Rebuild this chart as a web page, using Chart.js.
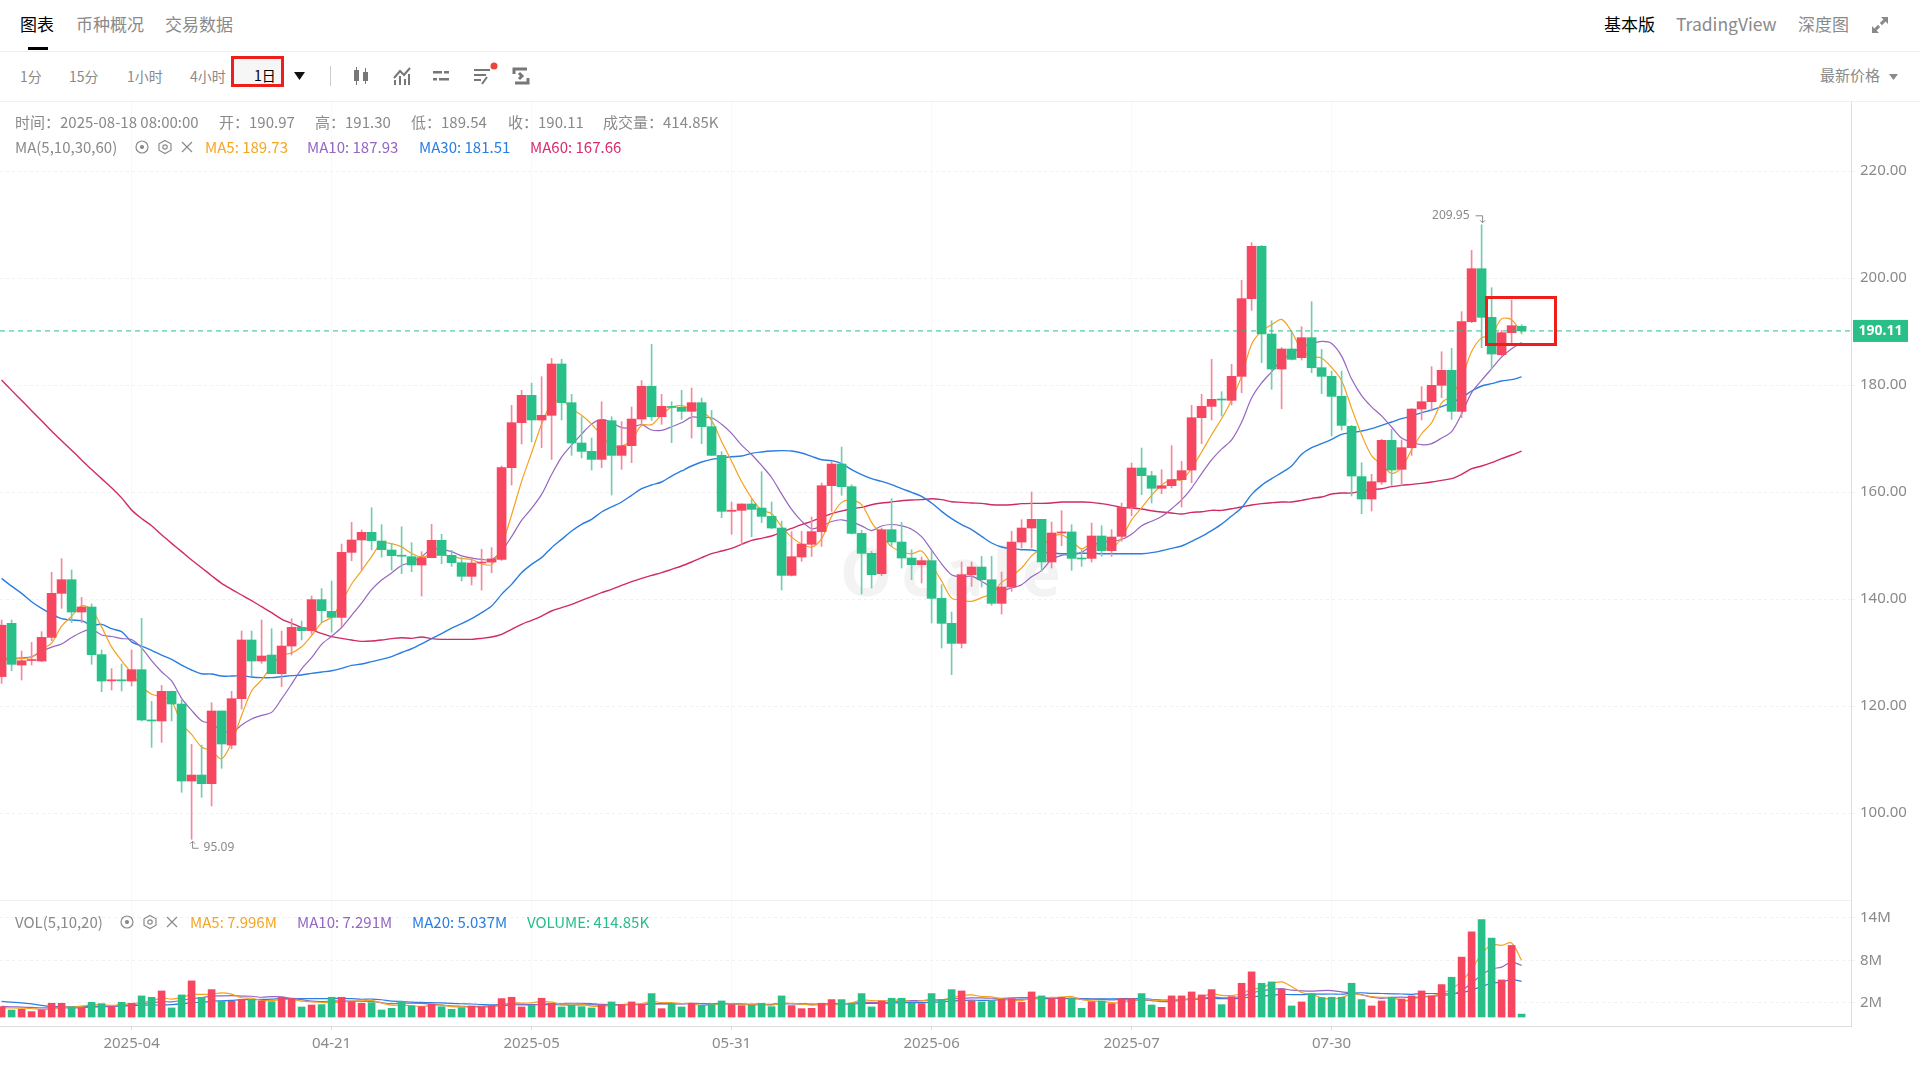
<!DOCTYPE html>
<html lang="zh">
<head>
<meta charset="utf-8">
<title>K线图</title>
<script src="https://cdn.jsdelivr.net/npm/chart.js@4"></script>
<style>
html, body { margin: 0; padding: 0; background: #fff; }
body { width: 1920px; height: 1080px; position: relative; overflow: hidden; font-family: "Noto Sans CJK SC", "Noto Sans", sans-serif; color: #8a8a8a; }
.t { position: absolute; white-space: nowrap; line-height: 20px; }
.tab { font-size: 17px; top: 14px; color: #8a8a8a; }
.tb { font-size: 14px; top: 66px; color: #8a8a8a; }
.info { font-size: 15px; color: #8a8a8a; }
.line { position: absolute; background: #f0f0f0; }
canvas { position: absolute; left: 0; }
svg { position: absolute; }
#mark { position: absolute; left: 840px; top: 530px; font: bold 66px "Noto Sans", sans-serif; letter-spacing: 9px; color: #f3f3f3; line-height: 80px; }
</style>
</head>
<body>
<span class="t tab" style="left:20px;color:#000">图表</span>
<span class="t tab" style="left:76px">币种概况</span>
<span class="t tab" style="left:165px">交易数据</span>
<div class="line" style="left:28px;top:47px;width:20px;height:3px;background:#000"></div>
<span class="t tab" style="left:1604px;color:#000">基本版</span>
<span class="t tab" style="left:1676px;font-size:17.500px">TradingView</span>
<span class="t tab" style="left:1798px">深度图</span>
<svg style="left:1871px;top:16px" width="18" height="18" viewBox="0 0 18 18" fill="#8a8a8a"><path d="M10 1h7v7l-2.400-2.400-3.600 3.600-2.200-2.200 3.600-3.600zM8 17H1v-7l2.400 2.400 3.600-3.600 2.200 2.200-3.600 3.600z"/></svg>
<div class="line" style="left:0;top:51px;width:1920px;height:1px"></div>

<span class="t tb" style="left:20px">1分</span>
<span class="t tb" style="left:69px">15分</span>
<span class="t tb" style="left:127px">1小时</span>
<span class="t tb" style="left:190px">4小时</span>
<div style="position:absolute;left:231px;top:56px;width:47px;height:25px;border:3px solid #ee1f1a;background:#f6f6f6"></div>
<span class="t tb" style="left:254px;top:65px;color:#000">1日</span>
<svg style="left:294px;top:72px" width="11" height="8"><path d="M0 0h11L5.500 8z" fill="#111"/></svg>
<div class="line" style="left:330px;top:66px;width:1px;height:20px;background:#ccc"></div>
<svg style="left:352px;top:66px" width="18" height="20" fill="#777"><rect x="2" y="4" width="5" height="11"/><rect x="4" y="1" width="1" height="18"/><rect x="11" y="6" width="5" height="9"/><rect x="13" y="2" width="1" height="16"/></svg>
<svg style="left:393px;top:66px" width="18" height="20" fill="none" stroke="#777" stroke-width="2"><path d="M1 12L7 5l4 4 6-7M2 14v5M7 10v9M12 13v6M16 8v11"/></svg>
<svg style="left:432px;top:66px" width="18" height="20" fill="#777"><rect x="1" y="5" width="9" height="2.500"/><rect x="12" y="5" width="5" height="2.500"/><rect x="1" y="12" width="4" height="2.500"/><rect x="7" y="12" width="10" height="2.500"/></svg>
<svg style="left:473px;top:66px" width="18" height="20" fill="none" stroke="#777" stroke-width="2"><path d="M1 4h16M1 9h12M1 14h7M9 18l5-7"/></svg>
<svg style="left:490px;top:62px" width="8" height="8"><circle cx="4" cy="4" r="3.500" fill="#e8463a"/></svg>
<svg style="left:512px;top:66px" width="18" height="20" fill="none" stroke="#777" stroke-width="3"><path d="M2 8V3h13M16 12v5H3M7 7l3 3-3 3"/></svg>
<span class="t" style="left:1820px;top:65px;font-size:15px">最新价格</span>
<svg style="left:1889px;top:74px" width="9" height="6"><path d="M0 0h9L4.500 6z" fill="#8a8a8a"/></svg>
<div class="line" style="left:0;top:101px;width:1920px;height:1px"></div>

<div id="mark">Ocale</div>
<canvas id="priceChart" width="1920" height="798" style="top:102px"></canvas>
<canvas id="volChart" width="1920" height="180" style="top:900px"></canvas>
<div class="line" style="left:0;top:900px;width:1851px;height:1px"></div>

<span class="t info" style="left:15px;top:112px">时间：2025-08-18 08:00:00</span>
<span class="t info" style="left:219px;top:112px">开：190.97</span>
<span class="t info" style="left:315px;top:112px">高：191.30</span>
<span class="t info" style="left:411px;top:112px">低：189.54</span>
<span class="t info" style="left:508px;top:112px">收：190.11</span>
<span class="t info" style="left:603px;top:112px">成交量：414.85K</span>
<span class="t info" style="left:15px;top:137px">MA(5,10,30,60)</span>
<svg style="left:134px;top:139px" width="62" height="16" fill="none" stroke="#8a8a8a" stroke-width="1.200"><circle cx="8" cy="8" r="6"/><circle cx="8" cy="8" r="1.500" fill="#8a8a8a"/><path d="M31 1.500l6 3.300v6.400l-6 3.300-6-3.300V4.800z"/><circle cx="31" cy="8" r="2.200"/><path d="M48 3l10 10M58 3L48 13"/></svg>
<span class="t info" style="left:205px;top:137px;color:#f5a623">MA5: 189.73</span>
<span class="t info" style="left:307px;top:137px;color:#9566c2">MA10: 187.93</span>
<span class="t info" style="left:419px;top:137px;color:#2a7de1">MA30: 181.51</span>
<span class="t info" style="left:530px;top:137px;color:#d92c6e">MA60: 167.66</span>

<span class="t info" style="left:15px;top:912px">VOL(5,10,20)</span>
<svg style="left:119px;top:914px" width="62" height="16" fill="none" stroke="#8a8a8a" stroke-width="1.200"><circle cx="8" cy="8" r="6"/><circle cx="8" cy="8" r="1.500" fill="#8a8a8a"/><path d="M31 1.500l6 3.300v6.400l-6 3.300-6-3.300V4.800z"/><circle cx="31" cy="8" r="2.200"/><path d="M48 3l10 10M58 3L48 13"/></svg>
<span class="t info" style="left:190px;top:912px;color:#f5a623">MA5: 7.996M</span>
<span class="t info" style="left:297px;top:912px;color:#9566c2">MA10: 7.291M</span>
<span class="t info" style="left:412px;top:912px;color:#2a7de1">MA20: 5.037M</span>
<span class="t info" style="left:527px;top:912px;color:#26bd87">VOLUME: 414.85K</span>

<div style="position:absolute;left:1485px;top:296px;width:66px;height:44px;border:3px solid #ee1f1a"></div>

<script>
// candle values, one entry per day
const opens = [125.5,135.45,127.66,128.5,128.41,132.83,141.06,143.61,137.57,138.5,129.6,124.7,124.9,124.67,126.79,117.4,117.2,122.74,120.37,105.98,107.1,105.48,119.07,112.7,121.37,132.34,128.41,129.53,126.04,131.21,134.7,134.08,139.88,137.69,136.57,148.72,151.03,152.46,150.84,149.16,148.1,147.91,146.36,147.73,150.97,148.16,146.79,144.24,146.73,146.9,147.41,164.55,172.96,178.07,173.46,174.33,183.93,176.7,169.16,167.6,166.1,173.33,166.85,168.66,173.64,179.75,174.08,176,175.83,175.08,176.7,172.21,166.85,156.39,156.57,157.76,157,155.45,153.27,144.42,147.85,150.22,152.59,161.18,165.23,161,152.27,148.54,144.73,152.96,150.65,147.66,146.42,147.17,140.12,135.45,131.71,144.55,145.98,143.61,139.19,142.24,150.65,153.27,154.89,146.92,152.34,152.53,147.66,147.6,151.78,149.03,151.71,157.13,164.49,163.05,160.69,161.18,162.31,164.11,173.89,176.01,177.38,177.13,181.62,196.14,205.92,189.53,182.99,186.73,185.11,188.85,183.24,181.62,177.88,172.27,162.87,158.69,161.87,169.66,164.24,168.29,175.51,176.88,179.94,182.74,175.08,191.84,201.74,192.65,185.67,189.78,190.97];
const closes = [135.1,127.79,128.47,128.66,132.83,141.06,143.61,137.57,138.5,129.6,124.67,124.9,124.7,126.79,117.38,117.2,122.74,120.37,105.98,107.1,105.48,119.07,112.9,121.37,132.34,128.41,129.35,126.04,131.21,134.7,134.08,139.88,137.82,136.57,148.72,151.03,152.46,150.9,149.22,148.1,148,146.36,147.73,150.97,148.16,146.79,144.24,146.73,146.9,147.5,164.55,172.96,178.07,173.46,174.33,183.93,176.7,169.16,167.6,166.1,173.46,166.85,168.66,173.64,179.75,174.08,176.01,175.8,175.08,176.7,172.21,166.85,156.39,156.6,157.76,156.76,155.45,153.27,144.42,147.91,150.28,152.59,161.18,165.23,161,152.27,148.54,144.55,152.96,150.65,147.66,146.42,147.17,140.12,135.45,131.71,144.55,145.98,143.61,139.19,142.24,150.65,153.27,154.89,146.92,152.34,152.53,147.6,147.48,151.78,149.03,151.59,157.13,164.49,163.05,160.69,161.18,162.31,163.99,173.89,176.01,177.32,177.2,181.62,196.14,205.92,189.53,182.99,186.73,184.8,188.85,183.24,181.62,177.88,172.46,162.99,158.69,161.93,169.66,164.11,168.29,175.51,176.88,179.94,182.74,175.08,191.84,201.74,192.65,185.79,189.78,191.09,190.11];
const highs = [136.07,136.07,130.28,131.9,133.9,144.98,147.54,145.42,140.31,139.07,130.47,126.98,127.85,130.47,136.39,120.87,123.86,122.8,121.43,112.83,112.7,120.62,119.07,122.74,134.02,134.02,136.07,134.45,134.02,136.32,135.89,140.56,141.93,143.36,150.28,154.33,152.9,157.07,153.9,150.4,153.5,150.53,148.85,153.96,152.09,149.1,147.73,147.85,149.3,149.6,164.86,176.2,179,180.37,181.56,184.98,184.8,178.26,174.08,170.09,176.88,174.08,173.15,175.89,180.81,187.6,178.26,176.88,179,179.44,177.57,175.26,167.54,158.13,157.8,158.63,163.8,158.13,154.58,152.59,152.65,155.33,161.68,165.73,168.41,161.37,152.83,148.91,153.27,158.75,154.33,149.22,147.85,148.91,142.68,137.57,146.92,146.92,147.97,147.97,145.05,152.65,154.83,160,154.89,154.39,156.51,153.89,149.22,154.2,153.7,152.96,157.94,165.42,168.22,163.86,164.17,168.66,165.73,176.2,178.26,184.8,178.75,183.86,199.56,206.6,206.1,192.02,186.98,190.09,190.9,195.58,186.67,182.6,182.6,172.46,165.48,163.3,169.84,171.71,169.72,175.58,179.69,183.43,186.23,186.85,193.71,205.17,209.95,198.19,190.22,195.89,191.3];
const lows = [124.24,126.6,124.86,127.66,128.29,132.2,138.26,135.6,135.58,127.79,122.68,122.99,122.8,123.74,117.2,112.27,113.2,117.2,103.86,95.09,102.93,101.31,108.35,112,119.44,125.67,127.97,126.04,123.61,129.53,132.34,133.46,135.58,133.77,134.83,147.17,145.42,149.2,147.8,145.42,144.74,145.11,140.56,147.73,146.6,146.1,143.36,142.62,141.68,144.9,147.2,161.3,168.97,169.4,168.29,166.1,173.46,166.85,166.36,164.11,164.55,159.44,164.24,165.48,172.65,173.4,172.65,169.22,173.58,170.09,169.03,166.85,155.2,152.09,150.2,151.65,154.27,153.15,141.68,144.3,147.04,147.97,149.84,156.39,159.38,152.15,140.93,142.06,144.36,149.84,145.79,143.61,142.99,135.51,130.84,125.86,130.84,142.37,142.24,138.82,137.2,141.43,149.53,149.53,145.17,145.79,149.97,145.36,146.1,146.92,147.97,147.97,150.78,155.58,159.5,157.94,159.69,160.75,157.2,161.74,169.03,173.46,174.2,176.26,178.57,193.96,184.17,179.19,175.58,184.67,184.67,182.3,178.38,170.47,171.59,159.25,155.95,156.45,161.43,161.25,161.25,166.85,173.46,175.14,177.63,173.58,173.89,191.65,186.98,182.93,185.42,187.79,189.54];
const ma5 = [129.2,128.8,128.9,129.1,130.57,131.76,134.93,136.75,138.71,138.07,134.79,131.05,128.47,126.13,123.69,122.19,121.76,120.9,116.73,114.68,112.33,111.6,110.11,113.18,118.23,122.82,124.87,127.5,129.47,129.94,131.08,133.18,135.54,136.61,139.41,142.8,145.32,147.94,150.47,150.34,149.74,148.52,147.88,148.23,148.24,148,147.58,147.38,146.56,146.43,149.98,155.73,162,167.31,172.67,176.55,177.3,175.52,174.34,172.7,170.6,168.63,168.53,169.74,172.47,172.6,174.43,175.86,176.14,175.53,175.16,173.33,169.45,165.75,161.96,158.87,156.59,155.97,153.53,151.56,150.27,149.69,151.28,155.44,158.06,158.45,157.64,154.32,151.86,149.79,148.87,148.45,148.97,146.4,143.36,140.17,139.8,139.56,140.26,141.01,143.11,144.33,145.79,148.05,149.59,151.61,151.99,150.86,149.37,150.35,149.68,149.5,151.4,154.8,157.06,159.39,161.31,162.34,162.24,164.41,167.48,170.7,173.68,177.21,181.66,187.64,190.08,191.24,192.26,189.99,186.58,185.32,185.05,183.28,180.81,175.64,170.73,166.79,165.15,163.48,164.54,167.9,170.89,172.95,176.67,178.03,181.3,186.27,188.81,189.42,192.36,192.21,189.73];
const ma10 = [128.5,128.9,129,129.2,130.2,131,131.6,132.8,133.8,134.32,133.28,132.99,132.61,132.42,130.88,128.49,126.4,124.69,121.43,119.19,117.26,116.68,115.5,114.96,116.46,117.58,118.24,118.81,121.33,124.09,126.95,129.03,131.52,133.04,134.68,136.94,139.25,141.74,143.54,144.88,146.27,146.92,147.91,149.35,149.29,148.87,148.05,147.63,147.4,147.34,148.99,151.66,154.69,156.94,159.55,163.27,166.52,168.76,170.83,172.69,173.58,172.97,172.03,172.04,172.59,171.6,171.53,172.2,172.94,174,173.88,173.88,172.66,170.95,168.75,167.02,164.96,162.71,159.64,156.76,154.57,153.14,153.63,154.49,154.81,154.36,153.67,152.8,153.65,153.93,153.66,153.05,151.65,149.13,146.58,144.52,144.13,144.27,143.33,142.19,141.64,142.07,142.68,144.16,145.3,147.36,148.16,148.33,148.71,149.97,150.65,150.75,151.13,152.09,153.71,154.54,155.41,156.87,158.52,160.74,163.44,166.01,168.01,169.73,173.04,177.56,180.39,182.46,184.74,185.83,187.11,187.7,188.15,187.77,185.4,181.11,178.03,175.92,174.22,172.15,170.09,169.32,168.84,169.05,170.08,171.29,174.6,178.58,180.88,183.05,185.2,186.76,187.93];
const ma30 = [143.86,142.4,141.06,139.5,138.26,137.2,136.32,136.07,135.95,135.14,135.26,134.45,133.9,132,131.2,130.4,129.5,128.72,127.66,126.73,126.04,125.98,125.6,125.6,125.67,125.42,125.3,125.3,125.48,125.67,125.8,126.1,126.35,126.6,127.04,127.6,127.85,128.29,128.72,129.22,130,130.7,131.6,132.6,133.52,134.58,135.39,136.32,137.45,138.69,140.87,142.74,144.92,146.48,147.73,149.6,151.15,152.71,153.96,154.89,156.26,157.2,158.13,159.38,160.62,161.31,161.87,162.99,163.93,164.86,165.61,166.11,166.36,166.6,166.73,167.23,167.48,167.66,167.73,167.66,167.29,166.67,166.04,165.86,165.3,164.17,163.24,162.49,161.99,161.37,160.62,159.94,159.19,157.94,156.39,155.02,153.89,152.96,151.71,150.47,149.72,149.41,149.22,149.16,148.78,148.6,148.47,148.47,148.54,148.54,148.47,148.47,148.47,148.47,148.47,148.66,149.03,149.47,149.91,150.78,151.7,152.8,154,155.51,157.07,159.56,161.25,162.49,163.61,164.86,167.04,168.29,169.03,169.84,170.78,171.09,171.4,171.84,172.46,173.08,173.71,174.21,174.83,175.33,175.95,176.7,177.63,178.88,179.81,180.25,180.75,181,181.51];
const ma60 = [180.93,179,177.1,175.2,173.3,171.4,169.6,167.8,166,164.2,162.5,160.8,158.9,156.64,155.04,153.7,152,150.4,148.85,147.3,145.85,144.36,142.93,141.8,140.75,139.69,138.57,137.45,136.26,135.45,134.7,134.2,133.58,132.96,132.65,132.34,132.09,132.15,132.34,132.59,132.77,132.65,132.9,132.6,132.46,132.46,132.46,132.46,132.65,132.9,133.4,134.33,135.27,136.01,136.82,137.76,138.38,139,139.75,140.44,141.18,141.81,142.55,143.24,143.86,144.42,144.92,145.55,146.17,146.92,147.73,148.47,148.97,149.47,150.22,150.97,151.34,151.78,152.52,153.21,153.89,154.52,155.26,155.95,156.45,156.88,157.13,157.63,157.94,158.13,158.38,158.5,158.57,158.75,158.57,158.19,158.07,157.94,157.88,157.63,157.57,157.63,157.82,157.88,157.88,157.94,158.13,158.13,158.13,158.07,157.82,157.51,157.13,157.01,156.82,156.51,156.26,156.07,155.89,156.2,156.32,156.57,156.57,156.88,157.2,157.57,157.82,158,158.13,158.13,158.44,158.82,159.06,159.63,159.81,159.81,160.19,160.44,160.62,161,161.25,161.43,161.62,161.87,162.18,162.49,163.3,164.36,164.86,165.48,166.23,166.92,167.66];
// volume in millions
const volumes = [1.46,0.99,1.09,0.76,0.99,1.94,1.94,1.42,1.32,2.08,1.89,1.46,2.08,1.94,2.98,2.79,3.68,1.28,3.12,5.1,2.79,3.87,2.22,2.22,2.5,2.5,2.27,2.17,2.79,2.6,1.42,1.7,1.75,2.79,2.79,2.17,1.94,2.03,0.99,1.23,2.22,1.56,1.46,1.8,1.46,1.09,1.32,1.56,1.46,1.61,2.6,2.79,1.42,1.65,2.65,1.94,1.42,1.65,1.46,1.28,1.7,2.13,1.75,2.13,1.8,3.31,1.18,1.8,1.42,1.94,1.65,1.75,2.27,1.75,1.61,1.65,1.94,1.46,2.98,1.61,1.18,1.23,1.94,2.46,2.46,1.94,3.31,1.42,2.27,2.65,2.65,1.94,1.89,3.31,2.5,3.87,3.68,2.27,2.13,2.27,2.5,2.6,2.08,3.54,2.98,2.6,2.79,2.6,1.23,2.17,2.27,1.89,2.6,2.6,3.31,1.7,1.37,2.98,2.98,3.54,3.12,3.87,1.75,2.88,4.77,6.38,4.77,4.96,3.92,1.56,2.13,3.31,2.74,2.79,2.79,4.77,2.46,1.56,2.27,2.79,2.55,2.98,3.68,2.98,4.58,5.62,8.46,12.05,13.75,11.15,5.24,10.11,0.41];
const volMa5 = [1.3,1.3,1.25,1.2,1.06,1.15,1.34,1.41,1.52,1.74,1.73,1.63,1.77,1.89,2.07,2.25,2.69,2.53,2.77,3.19,3.19,3.23,3.42,3.24,2.72,2.66,2.34,2.33,2.45,2.47,2.25,2.14,2.05,2.05,2.09,2.24,2.29,2.34,1.98,1.67,1.68,1.61,1.49,1.65,1.7,1.47,1.43,1.45,1.38,1.41,1.71,2,1.98,2.01,2.22,2.09,1.82,1.86,1.82,1.55,1.5,1.64,1.66,1.8,1.9,2.22,2.03,2.04,1.9,1.93,1.6,1.71,1.81,1.87,1.81,1.81,1.84,1.68,1.93,1.93,1.83,1.69,1.79,1.68,1.85,2.01,2.42,2.32,2.28,2.32,2.46,2.19,2.28,2.49,2.46,2.7,3.05,3.13,2.89,2.84,2.57,2.35,2.32,2.6,2.74,2.76,2.8,2.9,2.44,2.28,2.21,2.03,2.03,2.31,2.53,2.42,2.32,2.39,2.47,2.51,2.8,3.3,3.05,3.03,3.28,3.93,4.11,4.75,4.96,4.32,3.47,3.18,2.73,2.51,2.75,3.28,3.11,2.87,2.77,2.77,2.33,2.43,2.85,3,3.35,3.97,5.06,6.74,8.89,10.21,10.13,10.46,8];
const volMa10 = [1.5,1.45,1.4,1.35,1.3,1.3,1.3,1.3,1.3,1.4,1.44,1.49,1.59,1.71,1.91,1.99,2.16,2.15,2.33,2.63,2.72,2.96,2.98,3.01,2.96,2.93,2.79,2.88,2.85,2.6,2.46,2.24,2.19,2.25,2.28,2.25,2.22,2.2,2.02,1.88,1.96,1.95,1.92,1.82,1.69,1.58,1.52,1.47,1.52,1.56,1.59,1.72,1.72,1.7,1.82,1.9,1.91,1.92,1.92,1.89,1.8,1.73,1.76,1.81,1.73,1.86,1.84,1.85,1.85,1.92,1.91,1.87,1.93,1.89,1.87,1.71,1.78,1.75,1.9,1.87,1.82,1.77,1.74,1.81,1.89,1.92,2.06,2.06,1.98,2.09,2.24,2.31,2.3,2.39,2.39,2.58,2.62,2.71,2.69,2.65,2.64,2.7,2.73,2.75,2.79,2.67,2.58,2.61,2.52,2.51,2.49,2.42,2.47,2.38,2.41,2.32,2.18,2.21,2.39,2.52,2.61,2.81,2.72,2.75,2.9,3.37,3.71,3.9,4,3.8,3.7,3.65,3.74,3.74,3.54,3.38,3.15,2.8,2.64,2.76,2.8,2.77,2.86,2.89,3.06,3.15,3.75,4.8,5.95,6.78,7.05,7.76,7.29];
const volMa20 = [2.2,2.1,2,1.85,1.65,1.5,1.45,1.45,1.5,1.5,1.5,1.5,1.55,1.6,1.65,1.7,1.7,1.75,1.85,2.02,2.08,2.22,2.29,2.36,2.44,2.46,2.48,2.52,2.59,2.62,2.59,2.6,2.59,2.63,2.62,2.59,2.51,2.54,2.44,2.24,2.21,2.1,2.06,2.04,1.99,1.92,1.87,1.84,1.77,1.72,1.78,1.84,1.82,1.76,1.76,1.74,1.72,1.7,1.72,1.73,1.7,1.73,1.74,1.76,1.78,1.88,1.88,1.89,1.89,1.91,1.86,1.8,1.85,1.85,1.8,1.79,1.81,1.8,1.88,1.9,1.87,1.82,1.84,1.85,1.88,1.82,1.92,1.91,1.94,1.98,2.03,2.04,2.02,2.1,2.14,2.25,2.34,2.39,2.34,2.37,2.44,2.5,2.52,2.57,2.59,2.63,2.6,2.66,2.61,2.58,2.57,2.56,2.6,2.57,2.6,2.5,2.38,2.41,2.46,2.52,2.55,2.62,2.6,2.57,2.66,2.85,2.95,3.06,3.2,3.16,3.16,3.23,3.23,3.25,3.22,3.38,3.43,3.35,3.32,3.28,3.25,3.21,3.3,3.32,3.3,3.27,3.45,3.8,4.3,4.77,4.93,5.27,5.04];
const priceTicks = [100, 120, 140, 160, 180, 200, 220];
const volTicks = [2, 8, 14];
const dateTickIndex = [13, 33, 53, 73, 93, 113, 133];
const dateTickLabels = ['2025-04', '04-21', '2025-05', '05-31', '2025-06', '2025-07', '07-30'];
const lastPrice = 190.11;
const highMark = { index: 148, value: 209.95 };
const lowMark = { index: 19, value: 95.09 };

const UP = '#f7465f', DOWN = '#28bf88', UP_WICK = '#f5899a', DOWN_WICK = '#72cfae';
const ORANGE = '#f5a01e', PURPLE = '#9566c2', BLUE = '#2a7de1', CRIMSON = '#d02a69';
const TICK = '#8a8a8a', GRID = '#f1f1f1', VGRID = '#f8f8f8', EDGE = '#dedede';
const FONT = '"Noto Sans", "Noto Sans CJK SC", sans-serif';
const X_MIN = -0.16, X_MAX = 184.94;

const pts = arr => arr.map((v, i) => ({ x: i, y: v }));
const isUp = i => closes[i] >= opens[i];

function maLine(data, color, width) {
    return { type: 'line', data: pts(data), borderColor: color, borderWidth: width, pointRadius: 0, tension: 0.3, order: 5 };
}

// right axis fills its canvas, no room kept for half a tick label
function fitRightAxis(s) {
    s.width = 69;
    s.paddingTop = 0;
    s.paddingBottom = 0;
}

const xScale = {
    type: 'linear', min: X_MIN, max: X_MAX, offset: false,
    afterBuildTicks: s => { s.ticks = dateTickIndex.map(v => ({ value: v })); },
    grid: { color: VGRID, tickLength: 4, tickColor: EDGE, offset: false },
    ticks: { autoSkip: false, maxRotation: 0, padding: 5, color: TICK, font: { family: FONT, size: 15 },
        callback: v => dateTickLabels[dateTickIndex.indexOf(v)] }
};

const sharedOptions = {
    responsive: false, animation: false, events: [],
    layout: { padding: 0, autoPadding: false },
    plugins: { legend: { display: false }, tooltip: { enabled: false } }
};

// price labels that the library has no element for
const markers = {
    id: 'markers',
    afterDatasetsDraw(chart) {
        const { ctx, scales: { x, y } } = chart;
        ctx.save();
        ctx.font = '12px ' + FONT;
        ctx.fillStyle = TICK;
        ctx.strokeStyle = TICK;
        ctx.textBaseline = 'middle';

        const hx = x.getPixelForValue(highMark.index), hy = y.getPixelForValue(highMark.value);
        ctx.textAlign = 'right';
        ctx.fillText(highMark.value.toFixed(2), hx - 12, hy - 9);
        ctx.beginPath();
        ctx.moveTo(hx - 6, hy - 9); ctx.lineTo(hx + 1, hy - 9); ctx.lineTo(hx + 1, hy - 2);
        ctx.moveTo(hx - 1.5, hy - 4.5); ctx.lineTo(hx + 1, hy - 2); ctx.lineTo(hx + 3.5, hy - 4.5);
        ctx.stroke();

        const lx = x.getPixelForValue(lowMark.index), ly = y.getPixelForValue(lowMark.value);
        ctx.textAlign = 'left';
        ctx.fillText(lowMark.value.toFixed(2), lx + 12, ly + 8);
        ctx.beginPath();
        ctx.moveTo(lx + 7, ly + 9); ctx.lineTo(lx + 1, ly + 9); ctx.lineTo(lx + 1, ly + 2);
        ctx.moveTo(lx - 1.5, ly + 4.5); ctx.lineTo(lx + 1, ly + 2); ctx.lineTo(lx + 3.5, ly + 4.5);
        ctx.stroke();

        // last price tag on the axis
        const py = y.getPixelForValue(lastPrice);
        ctx.fillStyle = DOWN;
        ctx.fillRect(x.right + 2, py - 11, 55, 22);
        ctx.fillStyle = '#fff';
        ctx.font = 'bold 14px ' + FONT;
        ctx.textAlign = 'center';
        ctx.fillText(lastPrice.toFixed(2), x.right + 29.5, py + 0.5);
        ctx.restore();
    }
};

new Chart(document.getElementById('priceChart').getContext('2d'), {
    type: 'bar',
    plugins: [markers],
    data: {
        datasets: [
            { type: 'line', data: [{ x: X_MIN, y: lastPrice }, { x: X_MAX, y: lastPrice }], borderColor: DOWN, borderWidth: 1, borderDash: [5, 4], pointRadius: 0, order: 0 },
            { data: opens.map((o, i) => ({ x: i, y: [o, closes[i]] })), backgroundColor: opens.map((_, i) => isUp(i) ? UP : DOWN), barThickness: 9, minBarLength: 1, grouped: false, order: 1 },
            { data: highs.map((h, i) => ({ x: i, y: [lows[i], h] })), backgroundColor: opens.map((_, i) => isUp(i) ? UP_WICK : DOWN_WICK), barThickness: 1, grouped: false, order: 2 },
            maLine(ma5, ORANGE, 1.2),
            maLine(ma10, PURPLE, 1.2),
            maLine(ma30, BLUE, 1.4),
            maLine(ma60, CRIMSON, 1.4)
        ]
    },
    options: {
        ...sharedOptions,
        scales: {
            x: { ...xScale, ticks: { ...xScale.ticks, display: false }, grid: { color: VGRID, drawTicks: false, offset: false }, border: { display: false }, afterFit: s => { s.height = 0; } },
            y: {
                position: 'right', min: 83.74, max: 232.9,
                afterBuildTicks: s => { s.ticks = priceTicks.map(v => ({ value: v })); },
                afterFit: fitRightAxis,
                grid: { color: GRID, tickLength: 4, tickColor: GRID },
                border: { color: EDGE, dash: [3, 3] },
                ticks: { padding: 5, color: TICK, font: { family: FONT, size: 15 }, callback: v => v.toFixed(2) }
            }
        }
    }
});

new Chart(document.getElementById('volChart').getContext('2d'), {
    type: 'bar',
    data: {
        datasets: [
            { data: pts(volumes), backgroundColor: opens.map((_, i) => isUp(i) ? UP : DOWN), barThickness: 7, grouped: false, order: 1 },
            maLine(volMa5, ORANGE, 1.2),
            maLine(volMa10, PURPLE, 1.2),
            maLine(volMa20, BLUE, 1.2)
        ]
    },
    options: {
        ...sharedOptions,
        scales: {
            x: { ...xScale, border: { color: EDGE }, afterFit: s => { s.height = 54; } },
            y: {
                position: 'right', min: -1.27, max: 16.53,
                afterBuildTicks: s => { s.ticks = volTicks.map(v => ({ value: v })); },
                afterFit: fitRightAxis,
                grid: { color: GRID, tickLength: 4, tickColor: GRID },
                border: { color: EDGE, dash: [3, 3] },
                ticks: { padding: 5, color: TICK, font: { family: FONT, size: 15 }, callback: v => v + 'M' }
            }
        }
    }
});
</script>
</body>
</html>
